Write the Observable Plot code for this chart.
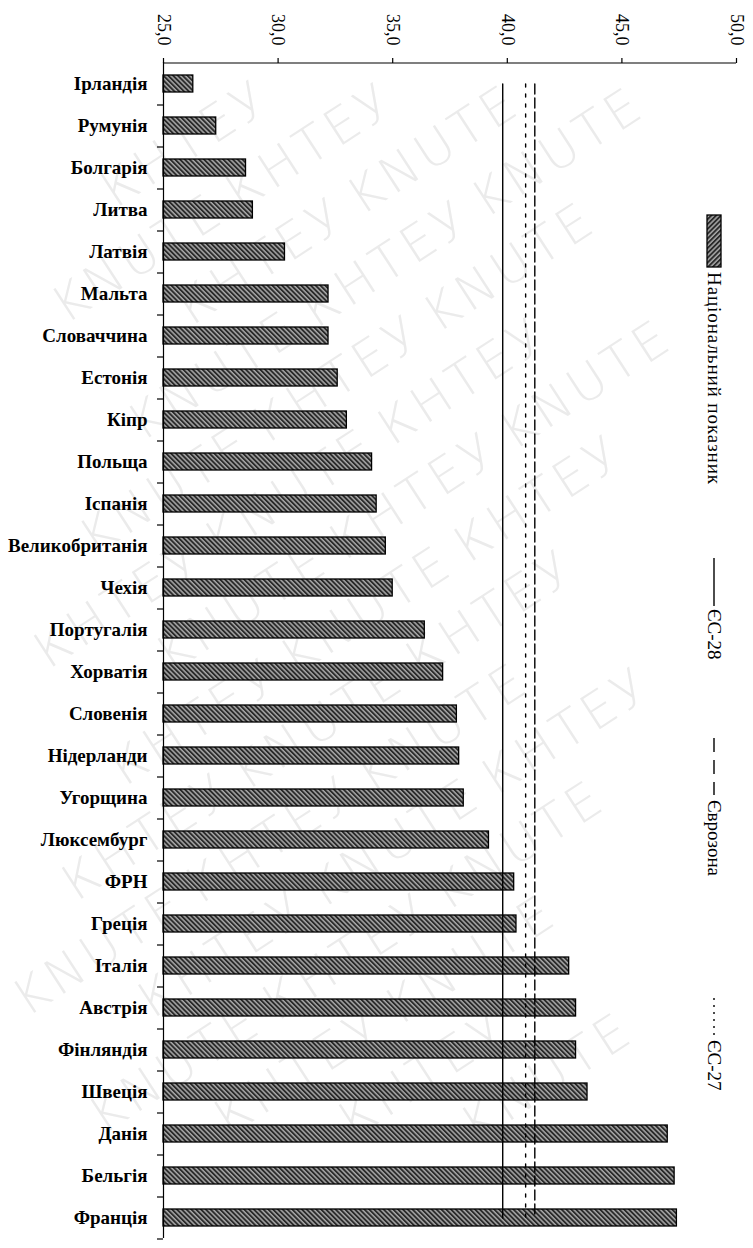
<!DOCTYPE html>
<html>
<head>
<meta charset="utf-8">
<script src="https://cdn.jsdelivr.net/npm/d3@7"></script>
<script src="https://cdn.jsdelivr.net/npm/@observablehq/plot@0.6"></script>
<style>
html, body { margin: 0; padding: 0; background: #fff; }
#wrap { position: relative; width: 753px; height: 1248px; overflow: hidden; }
#wm, #chart, #legend { position: absolute; left: 0; top: 0; }
</style>
</head>
<body>
<div id="wrap">
  <svg id="wm" width="753" height="1248"></svg>
  <div id="chart"></div>
  <svg id="legend" width="753" height="1248"></svg>
</div>
<script>
// ---- data ----
const countries = ["Ірландія", "Румунія", "Болгарія", "Литва", "Латвія", "Мальта", "Словаччина",
  "Естонія", "Кіпр", "Польща", "Іспанія", "Великобританія", "Чехія", "Португалія", "Хорватія",
  "Словенія", "Нідерланди", "Угорщина", "Люксембург", "ФРН", "Греція", "Італія", "Австрія",
  "Фінляндія", "Швеція", "Данія", "Бельгія", "Франція"];
const values = [26.3, 27.3, 28.6, 28.9, 30.3, 32.2, 32.2,
  32.6, 33.0, 34.1, 34.3, 34.7, 35.0, 36.4, 37.2,
  37.8, 37.9, 38.1, 39.2, 40.3, 40.4, 42.7, 43.0,
  43.0, 43.5, 47.0, 47.3, 47.4];
const refNames = ["ЄС-28", "Єврозона", "ЄС-27"];
const refValues = [39.8, 41.2, 40.8];
const xTicks = [25, 30, 35, 40, 45, 50];
const xDomain = [25, 50];
const seriesName = "Національний показник";
const watermarkWords = ["KNUTE", "КНТЕУ"];

// ---- layout ----
const W = 753, H = 1248;
const mTop = 62, mBottom = 10, mLeft = 163, mRight = 17;
const step = (H - mTop - mBottom) / countries.length;

const data = countries.map((c, i) => ({country: c, value: values[i]}));
const first = countries[0], last = countries[countries.length - 1];
const refLine = (v) => [{country: first, value: v}, {country: last, value: v}];
const refDash = [null, "10,4", "3,7"];

const chart = Plot.plot({
  width: W,
  height: H,
  marginTop: mTop,
  marginBottom: mBottom,
  marginLeft: mLeft,
  marginRight: mRight,
  style: {fontFamily: "'Liberation Serif', 'Times New Roman', serif", background: "transparent", color: "black", overflow: "visible"},
  x: {domain: xDomain},
  y: {domain: countries, paddingInner: 0.6, paddingOuter: 0.3},
  marks: [
    Plot.barX(data, {x1: xDomain[0], x2: "value", y: "country", fill: "url(#hatch)", stroke: "black", strokeWidth: 1.3}),
    ...refValues.map((v, i) => Plot.line(refLine(v), {x: "value", y: "country", stroke: "black", strokeWidth: 1.4, ...(refDash[i] ? {strokeDasharray: refDash[i]} : {})})),
    Plot.ruleX([xDomain[0]], {stroke: "black", strokeWidth: 1.2}),
    Plot.ruleY([first], {x1: xDomain[0], x2: xDomain[1], dy: -step / 2, stroke: "black", strokeWidth: 1.2}),
    Plot.axisX({anchor: "top", ticks: xTicks, tickFormat: d => d.toFixed(1).replace(".", ","), tickRotate: 90, tickSize: 5, tickPadding: 12, fontSize: 18, label: null, strokeWidth: 1.2}),
    Plot.axisY({tickSize: 0, tickPadding: 16, fontSize: 19, fontWeight: "bold", label: null}),
    Plot.axisY({tickSize: 6, tickFormat: () => "", dy: step / 2, label: null, strokeWidth: 1.2})
  ]
});

// hatch pattern
const NS = "http://www.w3.org/2000/svg";
const defs = document.createElementNS(NS, "defs");
defs.innerHTML = `<pattern id="hatch" patternUnits="userSpaceOnUse" width="3.4" height="3.4" patternTransform="rotate(-45)">
  <rect width="3.4" height="3.4" fill="#a8a8a8"/><rect width="1.9" height="3.4" fill="#2a2a2a"/></pattern>`;
chart.insertBefore(defs, chart.firstChild);
document.getElementById("chart").appendChild(chart);

// ---- legend (rotated 90°, on the right) ----
const lg = d3.select("#legend").append("g")
  .attr("transform", "translate(714,0) rotate(90)")
  .attr("font-family", "'Liberation Serif', 'Times New Roman', serif")
  .attr("font-size", 19)
  .attr("fill", "black");
lg.append("rect").attr("x", 215).attr("y", -7).attr("width", 52).attr("height", 14)
  .attr("fill", "url(#hatch)").attr("stroke", "black").attr("stroke-width", 1.3);
lg.append("text").attr("x", 272).attr("y", 6.5).attr("textLength", 212).attr("lengthAdjust", "spacing").text(seriesName);
const legendLines = [
  {x1: 558, x2: 606, tx: 609, dash: null},
  {x1: 738, x2: 795, tx: 800, dash: "14,8"},
  {x1: 998, x2: 1038, tx: 1040, dash: "2,5"}
];
legendLines.forEach((d, i) => {
  const l = lg.append("line").attr("x1", d.x1).attr("x2", d.x2).attr("y1", 0).attr("y2", 0)
    .attr("stroke", "black").attr("stroke-width", 1.4);
  if (d.dash) l.attr("stroke-dasharray", d.dash);
  lg.append("text").attr("x", d.tx).attr("y", 6.5).text(refNames[i]);
});

// ---- watermark (decorative, each word kept fully inside the page, away from the legend) ----
const wmSvg = document.getElementById("wm");
const wm = d3.select(wmSvg).append("g")
  .attr("transform", "rotate(-33 376 624)")
  .attr("fill", "#ebebeb")
  .attr("font-family", "'DejaVu Sans', sans-serif")
  .attr("font-weight", 200)
  .attr("font-size", 50)
  .attr("letter-spacing", 5);
for (let r = -18; r <= 18; r++) {
  for (let k = -8; k <= 8; k++) {
    const word = watermarkWords[((k + r) % 2 + 2) % 2];
    wm.append("text")
      .attr("x", 376 + k * 205 + (((r % 2) + 2) % 2) * 102)
      .attr("y", 624 + r * 70)
      .attr("text-anchor", "middle")
      .text(word);
  }
}
wm.selectAll("text").each(function () {
  const bb = this.getBBox();
  const m = this.getCTM();
  const corners = [[bb.x, bb.y + 6], [bb.x + bb.width, bb.y + 6],
                   [bb.x, bb.y + bb.height - 6], [bb.x + bb.width, bb.y + bb.height - 6]];
  const inside = corners.every(([x, y]) => {
    const p = wmSvg.createSVGPoint(); p.x = x; p.y = y;
    const q = p.matrixTransform(m);
    return q.x >= 2 && q.y >= 2 && q.x <= 680 && q.y <= H - 2;
  });
  if (!inside) this.remove();
});
</script>
</body>
</html>
